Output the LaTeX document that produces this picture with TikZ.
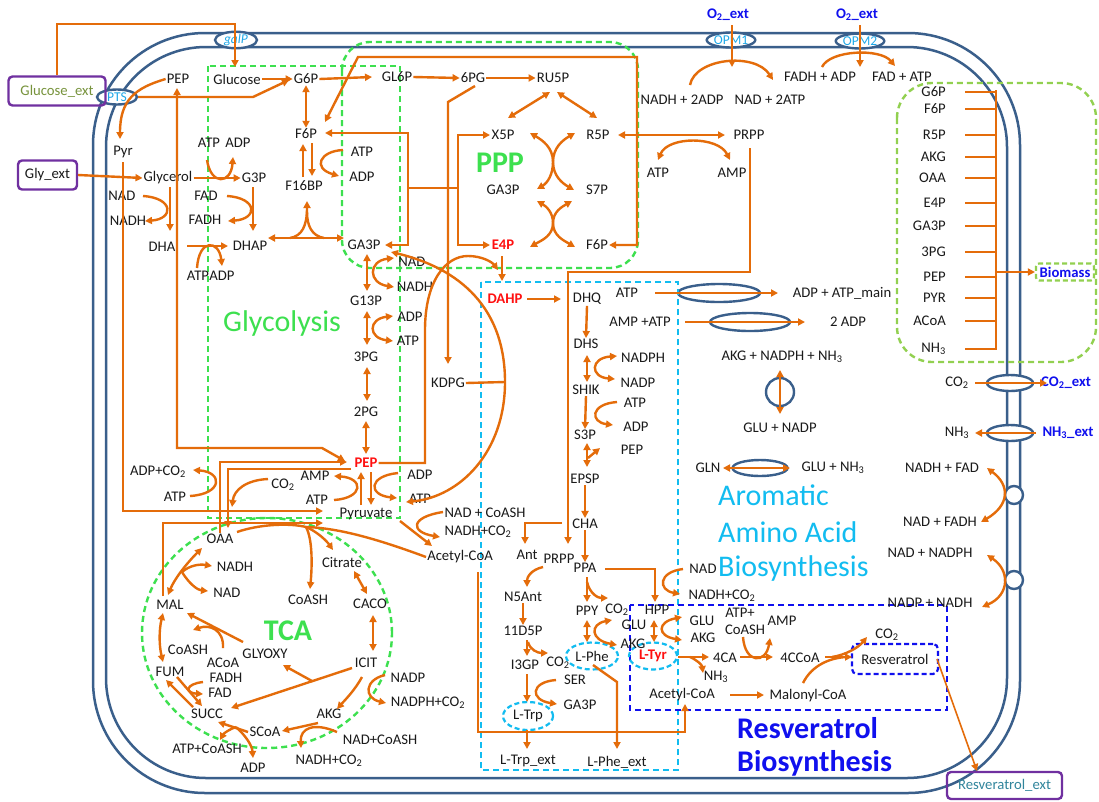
\documentclass[tikz,border=0pt]{standalone}
\usepackage{fontspec}
\setmainfont{Carlito}
\usetikzlibrary{arrows.meta,shapes.geometric}
\definecolor{org}{HTML}{E46C0A}
\definecolor{memc}{HTML}{3A5F8B}
\definecolor{gcol}{HTML}{3DE04F}
\definecolor{bcol}{HTML}{92D050}
\definecolor{ccol}{HTML}{12BCF0}
\definecolor{rblue}{HTML}{1010EE}
\definecolor{tblue}{HTML}{1EA8E8}
\definecolor{olive}{HTML}{77933C}
\definecolor{purp}{HTML}{7030A0}
\definecolor{teal2}{HTML}{31859C}
\definecolor{txt}{HTML}{1A1A1A}
\definecolor{redm}{HTML}{FF1010}
\newcommand\lblf{\fontsize{14.7}{16}\selectfont}
\newcommand\ttlf{\fontsize{30}{34}\selectfont}
\newcommand\trf{\fontsize{13.5}{15}\selectfont}
\begin{document}
\begin{tikzpicture}[x=1pt,y=-1pt,
  >={Triangle[length=7pt,width=7pt]},
  lab/.style={inner sep=1pt,font=\lblf,text=txt},
  rlab/.style={inner sep=1pt,font=\lblf\bfseries,text=redm},
  blab/.style={inner sep=1pt,font=\lblf\bfseries,text=rblue},
  oar/.style={draw=org,line width=2.4pt,->},
  odar/.style={draw=org,line width=2.4pt,<->},
  oln/.style={draw=org,line width=2.4pt},
  mem/.style={draw=memc,line width=2.5pt},
  trans/.style={ellipse,draw=memc,line width=2.4pt,fill=white,inner sep=0pt,font=\trf,text=tblue},
  gbox/.style={draw=gcol,line width=2.4pt,dash pattern=on 6pt off 4pt},
  bbox/.style={draw=bcol,line width=2.4pt,dash pattern=on 6pt off 4pt},
  cbox/.style={draw=ccol,line width=2.4pt,dash pattern=on 6pt off 4pt},
  rbox/.style={draw=rblue,line width=2.4pt,dash pattern=on 6pt off 4pt},
  extbox/.style={draw=purp,line width=2.4pt,rounded corners=4pt,inner sep=1pt,font=\lblf},
  ttl/.style={inner sep=0pt,font=\ttlf}]
\useasboundingbox (0,0) rectangle (1099,801);
\fill[white] (0,0) rectangle (1099,801);
% membranes
\draw[mem,rounded corners=112pt] (93,33) rectangle (1020,793);
\draw[mem,rounded corners=100pt] (106,47) rectangle (1007,778);
% transporters
\node[trans,minimum width=42pt,minimum height=15pt] (galp) at (236,40) {\itshape galP};
\node[trans,minimum width=40pt,minimum height=15pt] (pts) at (117,97) {PTS};
\node[trans,minimum width=44pt,minimum height=15pt] (opm1) at (731,40) {OPM1};
\node[trans,minimum width=44pt,minimum height=15pt] (opm2) at (860,41) {OPM2};
\node[trans,minimum width=46pt,minimum height=16pt] (tco2) at (1010,383) {};
\node[trans,minimum width=46pt,minimum height=16pt] (tnh3) at (1010,433) {};
\node[trans,circle,minimum size=18pt] (circA) at (1014,495) {};
\node[trans,circle,minimum size=18pt] (circB) at (1014,580) {};
\node[trans,minimum width=82pt,minimum height=18pt] (atpell) at (719,293) {};
\node[trans,minimum width=80pt,minimum height=18pt] (ampell) at (750,322) {};
\node[trans,minimum width=55pt,minimum height=16pt] (glnell) at (760,468) {};
\node[trans,circle,minimum size=28pt] (akgcirc) at (780,392) {};
% dashed boxes
\draw[gbox] (208,66) rectangle (400,518);
\draw[gbox,rounded corners=28pt] (342,42) rectangle (638,268);
\draw[gbox] (267,633) ellipse (125pt and 115pt);
\draw[bbox,rounded corners=35pt] (897,83) rectangle (1096,362);
\draw[cbox] (481,282) rectangle (678,770);
\draw[rbox] (630,605) rectangle (947,710);
\node[draw=ccol,line width=2.2pt,dash pattern=on 5pt off 3pt,ellipse,minimum width=50pt,minimum height=28pt,inner sep=0pt] (ltrpE) at (528,716) {};
\node[draw=ccol,line width=2.2pt,dash pattern=on 5pt off 3pt,ellipse,minimum width=52pt,minimum height=27pt,inner sep=0pt] (lpheE) at (592,656) {};
\node[draw=ccol,line width=2.2pt,dash pattern=on 5pt off 3pt,ellipse,minimum width=48pt,minimum height=27pt,inner sep=0pt] (ltyrE) at (653,656) {};
% external boxes
\node[extbox,minimum width=97pt,minimum height=29pt,text=olive] (glcext) at (57,91) {Glucose\_ext};
\node[extbox,minimum width=59pt,minimum height=29pt,text=txt] (glyext) at (47.5,175) {Gly\_ext};
\node[extbox,minimum width=115pt,minimum height=27pt,text=teal2] (resvext) at (1004.5,785.5) {Resveratrol\_ext};
% ---------- labels
\node[lab] (pepA) at (178,79) {PEP};
\node[lab] (glc) at (237,79) {Glucose};
\node[lab] (g6p) at (306,79) {G6P};
\node[lab] (gl6p) at (397,77) {GL6P};
\node[lab] (pg6) at (473,78) {6PG};
\node[lab] (ru5p) at (553,78) {RU5P};
\node[lab] (pyr) at (123,152) {Pyr};
\node[lab] (f6p) at (306,134) {F6P};
\node[lab] (atpA) at (209,143) {ATP};
\node[lab] (adpA) at (238,143) {ADP};
\node[lab] (glyc) at (168,178) {Glycerol};
\node[lab] (g3p) at (254,178) {G3P};
\node[lab] (f16bp) at (304,186) {F16BP};
\node[lab] (atpB) at (362,152) {ATP};
\node[lab] (adpB) at (362,177) {ADP};
\node[lab] (x5p) at (503,135) {X5P};
\node[lab] (r5p) at (598,135) {R5P};
\node[lab] (ga3pP) at (503,190) {GA3P};
\node[lab] (s7p) at (597,190) {S7P};
\node[rlab] (e4p) at (503,245) {E4P};
\node[lab] (f6pP) at (597,245) {F6P};
\node[lab] (nadA) at (122,196) {NAD};
\node[lab] (nadhA) at (128,221) {NADH};
\node[lab] (fadA) at (206,196) {FAD};
\node[lab] (fadhA) at (205,220) {FADH};
\node[lab] (dha) at (162,247) {DHA};
\node[lab] (dhap) at (250,246) {DHAP};
\node[lab] (atpC) at (198,276) {ATP};
\node[lab] (adpC) at (222,276) {ADP};
\node[lab] (ga3p) at (364,245) {GA3P};
\node[lab] (nadB) at (412,262) {NAD};
\node[lab] (nadhB) at (415,287) {NADH};
\node[lab] (g13p) at (366,301) {G13P};
\node[lab] (adpD) at (410,317) {ADP};
\node[lab] (atpD) at (408,341) {ATP};
\node[lab] (pg3) at (366,357) {3PG};
\node[lab] (pg2) at (366,412) {2PG};
\node[rlab] (pep) at (366,463) {PEP};
\node[lab] (ampE) at (315,476) {AMP};
\node[lab] (atpE) at (317,500) {ATP};
\node[lab] (adpF) at (420,475) {ADP};
\node[lab] (atpF) at (420,499) {ATP};
\node[lab] (co2A) at (283,485) {CO\textsubscript{2}};
\node[lab] (adpco2) at (158,472) {ADP+CO\textsubscript{2}};
\node[lab] (atpG) at (175,497) {ATP};
\node[lab] (pyruv) at (366,514) {Pyruvate};
\node[lab] (nadcoash) at (485,513) {NAD + CoASH};
\node[lab] (nadhco2) at (478,532) {NADH+CO\textsubscript{2}};
\node[lab] (acoa) at (460,557) {Acetyl-CoA};
\node[lab] (kdpg) at (448,383) {KDPG};
\node[lab] (oaa) at (220,539) {OAA};
\node[lab] (nadhC) at (235,567) {NADH};
\node[lab] (nadC) at (227,593) {NAD};
\node[lab] (citrate) at (342,562) {Citrate};
\node[lab] (coashA) at (308,600) {CoASH};
\node[lab] (caco) at (370,604) {CACO};
\node[lab] (mal) at (170,605) {MAL};
\node[lab] (coashB) at (188,650) {CoASH};
\node[lab] (glyoxy) at (265,654) {GLYOXY};
\node[lab] (acoaB) at (223,663) {ACoA};
\node[lab] (icit) at (366,663) {ICIT};
\node[lab] (fum) at (170,672) {FUM};
\node[lab] (fadhB) at (226,678) {FADH};
\node[lab] (fadB) at (220,693) {FAD};
\node[lab] (nadpA) at (408,678) {NADP};
\node[lab] (nadphco2) at (428,703) {NADPH+CO\textsubscript{2}};
\node[lab] (succ) at (207,714) {SUCC};
\node[lab] (akg) at (329,714) {AKG};
\node[lab] (scoa) at (265,732) {SCoA};
\node[lab] (nadcoashB) at (380,740) {NAD+CoASH};
\node[lab] (atpcoash) at (207,749) {ATP+CoASH};
\node[lab] (adpH) at (253,768) {ADP};
\node[lab] (nadhco2B) at (329,761) {NADH+CO\textsubscript{2}};
% aromatic
\node[rlab] (dahp) at (505,299) {DAHP};
\node[lab] (dhq) at (587,299) {DHQ};
\node[lab] (dhs) at (586,344) {DHS};
\node[lab] (nadphA) at (643,358) {NADPH};
\node[lab] (nadpB) at (638,383) {NADP};
\node[lab] (shik) at (586,390) {SHIK};
\node[lab] (atpH) at (635,403) {ATP};
\node[lab] (adpI) at (636,427) {ADP};
\node[lab] (s3p) at (585,435) {S3P};
\node[lab] (pepC) at (632,450) {PEP};
\node[lab] (epsp) at (585,479) {EPSP};
\node[lab] (cha) at (585,524) {CHA};
\node[lab] (ant) at (527,555) {Ant};
\node[lab] (prppB) at (559,559) {PRPP};
\node[lab] (ppa) at (585,568) {PPA};
\node[lab] (n5ant) at (523,597) {N5Ant};
\node[lab] (nadD) at (703,569) {NAD};
\node[lab] (nadhco2C) at (722,596) {NADH+CO\textsubscript{2}};
\node[lab] (ppy) at (587,611) {PPY};
\node[lab] (co2B) at (617,610) {CO\textsubscript{2}};
\node[lab] (hpp) at (657,610) {HPP};
\node[lab] (gluA) at (634,625) {GLU};
\node[lab] (akgB) at (633,644) {AKG};
\node[lab] (gluB) at (702,621) {GLU};
\node[lab] (akgC) at (703,638) {AKG};
\node[lab] (atpplus) at (740,613) {ATP+};
\node[lab] (coashC) at (745,630) {CoASH};
\node[lab] (ampB) at (782,621) {AMP};
\node[lab] (co2C) at (887,635) {CO\textsubscript{2}};
\node[lab] (d5p) at (523,631) {11D5P};
\node[lab] (lphe) at (592,656) {L-Phe};
\node[rlab] (ltyr) at (653,656) {L-Tyr};
\node[lab] (ca4) at (725,658) {4CA};
\node[lab] (cca4) at (800,658) {4CCoA};
\node[draw=rblue,line width=2.2pt,dash pattern=on 5pt off 3pt,rounded corners=5pt,minimum width=86pt,minimum height=30pt,inner sep=1pt,font=\lblf,text=txt] (resv) at (895,659) {Resveratrol};
\node[lab] (co2D) at (558,663) {CO\textsubscript{2}};
\node[lab] (i3gp) at (525,665) {I3GP};
\node[lab] (nh3B) at (716,677) {NH\textsubscript{3}};
\node[lab] (ser) at (575,680) {SER};
\node[lab] (acoaC) at (682,695) {Acetyl-CoA};
\node[lab] (malcoa) at (808,696) {Malonyl-CoA};
\node[lab] (ga3pC) at (580,705) {GA3P};
\node[lab] (ltrp) at (528,716) {L-Trp};
\node[lab] (ltrpext) at (528,761) {L-Trp\_ext};
\node[lab] (lpheext) at (617,762) {L-Phe\_ext};
% right side
\node[blab] (o2a) at (728,15) {O\textsubscript{2}\_ext};
\node[blab] (o2b) at (857,15) {O\textsubscript{2}\_ext};
\node[lab] (nadh2adp) at (682,100) {NADH + 2ADP};
\node[lab] (nad2atp) at (770,100) {NAD + 2ATP};
\node[lab] (fadhadp) at (820,77) {FADH + ADP};
\node[lab] (fadatp) at (902,77) {FAD + ATP};
\node[lab] (prppA) at (749,135) {PRPP};
\node[lab] (atpJ) at (658,173) {ATP};
\node[lab] (ampA) at (732,173) {AMP};
\node[lab] (atpK) at (627,293) {ATP};
\node[lab] (atpmain) at (842,293) {ADP + ATP\_main};
\node[lab] (ampatp) at (640,322) {AMP +ATP};
\node[lab] (adp2) at (848,322) {2 ADP};
\node[lab] (akgnadph) at (782,357) {AKG + NADPH + NH\textsubscript{3}};
\node[lab] (glunadp) at (780,428) {GLU + NADP};
\node[lab] (gln) at (708,468) {GLN};
\node[lab] (glunh3) at (833,468) {GLU + NH\textsubscript{3}};
\node[lab] (co2E) at (957,383) {CO\textsubscript{2}};
\node[blab] (co2ext) at (1066,383) {CO\textsubscript{2}\_ext};
\node[lab] (nh3C) at (957,433) {NH\textsubscript{3}};
\node[blab] (nh3ext) at (1068,433) {NH\textsubscript{3}\_ext};
\node[lab] (nadhfad) at (942,468) {NADH + FAD};
\node[lab] (nadfadh) at (940,522) {NAD + FADH};
\node[lab] (nadnadph) at (930,553) {NAD + NADPH};
\node[lab] (nadpnadh) at (930,603) {NADP + NADH};
% biomass list
\foreach \t/\yy/\nm in {G6P/92/bA,F6P/109/bB,R5P/135/bC,AKG/157/bD,OAA/178/bE,E4P/203/bF,GA3P/226/bG,3PG/252/bH,PEP/277/bI,PYR/298/bJ,ACoA/321/bK,NH\textsubscript{3}/349/bL}{
  \node[lab,anchor=east] (\nm) at (947,\yy) {\t};
  \draw[oln] (965,\yy) -- (996,\yy);
}
\draw[oln] (996,90) -- (996,350);
\node[draw=bcol,line width=2.2pt,dash pattern=on 5pt off 3pt,rounded corners=3pt,minimum width=58pt,minimum height=17pt,inner sep=1pt,font=\lblf\bfseries,text=rblue] (biomass) at (1065,272) {Biomass};
\draw[oar] (996,272) -- (biomass.west);
% titles
\node[ttl,text=gcol,font=\ttlf\bfseries] (tppp) at (500,163) {PPP};
\node[ttl,text=gcol] (tgly) at (282,323) {Glycolysis};
\node[ttl,text=gcol,font=\ttlf\bfseries] (ttca) at (288,631) {TCA};
\node[ttl,text=ccol,anchor=west] (tar1) at (718,495) {Aromatic};
\node[ttl,text=ccol,anchor=west] (tar2) at (718,532) {Amino Acid};
\node[ttl,text=ccol,anchor=west] (tar3) at (718,568) {Biosynthesis};
\node[ttl,text=rblue,font=\ttlf\bfseries,anchor=west] (trs1) at (737,728) {Resveratrol};
\node[ttl,text=rblue,font=\ttlf\bfseries,anchor=west] (trs2) at (737,763) {Biosynthesis};
% ---------- connectors
% uptake
\draw[oar] (glcext.north) -- (57,24) -- (235,24) -- (235,67);
\draw[oar] (pts.east) -- (253,97) -- (289,80);
\draw[oar] (pepA.west) .. controls (135,88) and (120,100) .. (120,139);
\draw[oar] (glyext.east) -- (glyc.west);
% upper glycolysis
\draw[oar] (glc.east) -- (g6p.west);
\draw[odar] (g6p.south) -- (f6p.north);
\draw[oar] (g6p.east) -- (372,77);
\draw[oar] (gl6p.east) -- (pg6.west);
\draw[oar] (pg6.east) -- (ru5p.west);
\draw[oar] (312,143) -- (312,176);
\draw[oar] (303,177) -- (303,144);
\draw[oar] (343,150) .. controls (320,151) and (312,168) .. (339,176);
\draw[oar] (glyc.east) -- (g3p.west);
\draw[oar] (207,160) .. controls (211,186) and (231,184) .. (233,157);
\draw[oar] (170,187) -- (170,231);
\draw[oar] (143,196) .. controls (174,198) and (174,219) .. (145,221);
\draw[oar] (253,187) -- (253,231);
\draw[oar] (227,196) .. controls (258,198) and (258,219) .. (228,221);
\draw[oar] (187,246) -- (228,246);
\draw[oar] (197,268) .. controls (199,238) and (219,240) .. (222,266);
\draw[odar] (268,238) -- (344,238);
\draw[oar] (290,238) .. controls (302,236) and (307,226) .. (307,201);
\draw[oln] (324,238) .. controls (312,236) and (307,226) .. (307,212);
% lower glycolysis
\draw[odar] (367,254) -- (367,291);
\draw[odar] (394,258) .. controls (368,261) and (368,283) .. (394,287);
\draw[odar] (367,311) -- (367,345);
\draw[odar] (393,316) .. controls (368,319) and (368,338) .. (393,341);
\draw[odar] (367,367) -- (367,401);
\draw[odar] (366,421) -- (366,454);
\draw[oar] (361,505) -- (361,472);
\draw[oar] (371,472) -- (371,505);
\draw[oar] (334,500) .. controls (364,498) and (364,478) .. (334,476);
\draw[oar] (398,473) .. controls (368,476) and (368,495) .. (397,498);
% PPP
\draw[odar] (550,92) -- (508,118);
\draw[odar] (557,92) -- (597,118);
\draw[odar] (530,133) to[out=-30,in=90] (553,162) to[out=-90,in=30] (537,189);
\draw[odar] (575,133) to[out=210,in=90] (553,162) to[out=-90,in=150] (574,190);
\draw[odar] (537,201) to[out=-30,in=90] (553,223) to[out=-90,in=30] (530,247);
\draw[odar] (572,201) to[out=210,in=90] (553,223) to[out=-90,in=150] (575,247);
\coordinate (jA) at (408,188);
\coordinate (jB) at (458,188);
\draw[oar] (jA) -- (408,133) -- (325,133);
\draw[oar] (jA) -- (408,245) -- (385,245);
\draw[oln] (jA) -- (jB);
\draw[oar] (jB) -- (458,135) -- (490,135);
\draw[oar] (jB) -- (458,245) -- (490,245);
\draw[odar] (f6pP.east) -- (637,245) -- (637,57) -- (358,57) -- (325,122);
\draw[oar] (475,86) -- (448,102) -- (448,364);
% ED + PEP loop
\coordinate (jK) at (505,382);
\draw[odar] (391,252) .. controls (450,266) and (505,300) .. (jK) .. controls (505,452) and (460,497) .. (406,502);
\draw[oln] (kdpg.east) -- (jK);
\draw[oar] (pep.east) -- (425,463) -- (425,330) .. controls (425,282) and (445,256) .. (468,256) .. controls (482,256) and (492,262) .. (498,270);
% anaplerotic
\draw[oar] (268,479) .. controls (246,480) and (234,490) .. (232,507);
\draw[oar] (oaa.north) -- (220,462) -- (347,462);
\draw[oar] (351,469) -- (228,469) -- (228,528);
\draw[oar] (190,496) .. controls (223,494) and (223,472) .. (193,470);
\draw[odar] (177,88) -- (177,448) -- (322,448) -- (345,461);
\draw[oar] (123,162) -- (123,511) -- (323,511);
\draw[oar] (163,596) -- (163,523) -- (323,523);
% pyruvate -> acetyl-CoA
\draw[oar] (400,521) -- (432,546);
\draw[oar] (443,512) .. controls (410,517) and (410,532) .. (440,537);
% TCA
\coordinate (jT) at (306,527);
\draw[oln] (acoa.west) .. controls (380,540) and (340,528) .. (jT);
\draw[oln] (237,532) .. controls (260,524) and (290,523) .. (jT);
\draw[oar] (jT) .. controls (316,531) and (326,540) .. (333,550);
\draw[oar] (jT) .. controls (313,540) and (312,568) .. (310,589);
\draw[odar] (354,571) -- (367,594);
\draw[odar] (373,615) -- (373,651);
\draw[odar] (202,548) .. controls (185,565) and (174,580) .. (168,595);
\draw[oar] (182,572) .. controls (190,565) and (200,564) .. (212,566);
\draw[oar] (182,572) .. controls (190,585) and (198,590) .. (208,591);
\draw[odar] (163,613) .. controls (159,630) and (159,645) .. (163,662);
\draw[oar] (243,642) -- (187,613);
\draw[oar] (223,648) .. controls (224,630) and (210,624) .. (193,630);
\draw[oar] (352,668) -- (231,708);
\draw[oar] (312,681) -- (283,665);
\draw[oar] (193,707) -- (166,680);
\draw[oar] (177,677) -- (202,706);
\draw[oar] (203,682) .. controls (185,684) and (185,693) .. (203,694);
\draw[oar] (248,732) -- (218,722);
\draw[oar] (236,727) .. controls (230,729) and (224,733) .. (220,740);
\draw[oar] (236,727) .. controls (245,735) and (252,745) .. (253,758);
\draw[oar] (318,723) -- (282,731);
\draw[oar] (337,732) .. controls (314,722) and (300,728) .. (301,748);
\draw[oar] (362,677) .. controls (355,690) and (345,700) .. (337,709);
\draw[oar] (385,675) .. controls (364,680) and (364,698) .. (386,703);
% aromatic pathway
\draw[oar] (502,256) -- (502,281);
\draw[oar] (527,299) -- (561,299);
\draw[oar] (dhq.south) -- (dhs.north);
\draw[odar] (587,355) -- (587,382);
\draw[odar] (617,356) .. controls (590,358) and (590,377) .. (615,379);
\draw[oar] (shik.south) -- (s3p.north);
\draw[oar] (617,402) .. controls (590,404) and (590,422) .. (613,425);
\draw[odar] (587,443) -- (587,467);
\draw[oar] (588,458) -- (600,448);
\draw[oar] (epsp.south) -- (cha.north);
\draw[oar] (cha.south) -- (ppa.north);
\draw[oar] (562,523) -- (525,523) -- (525,544);
\draw[oar] (750,148) -- (750,272) -- (568,272) -- (568,544);
\draw[oar] (543,567) .. controls (530,570) and (527,578) .. (527,587);
\draw[oar] (n5ant.south) -- (d5p.north);
\draw[oar] (527,640) -- (527,656);
\draw[oar] (528,642) .. controls (530,650) and (538,653) .. (548,653);
\draw[oar] (527,674) -- (527,702);
\draw[oar] (556,680) .. controls (530,682) and (530,700) .. (557,704);
\draw[oar] (527,730) -- (527,749);
\draw[oar] (587,577) -- (587,602);
\draw[oar] (587,582) .. controls (590,594) and (598,598) .. (608,598);
\draw[odar] (587,620) -- (587,642);
\draw[odar] (612,620) .. controls (590,624) and (590,640) .. (617,645);
\draw[oar] (593,665) -- (617,682) -- (617,749);
\draw[oar] (605,569) -- (655,569) -- (655,602);
\draw[oar] (683,569) .. controls (658,572) and (658,590) .. (680,594);
\draw[odar] (654,620) -- (654,642);
\draw[odar] (682,617) .. controls (657,622) and (657,636) .. (682,640);
% resveratrol
\draw[oar] (678,657) -- (709,657);
\draw[oar] (690,657) .. controls (697,660) and (702,665) .. (703,673);
\draw[oar] (740,657) -- (773,657);
\draw[oar] (743,637) .. controls (745,664) and (766,664) .. (770,638);
\draw[oar] (825,657) -- (852,657);
\draw[oln] (803,683) .. controls (812,665) and (830,658) .. (846,657);
\draw[oar] (832,657) .. controls (845,655) and (858,648) .. (867,637);
\draw[oar] (730,695) -- (764,695);
\draw[oar] (478,572) -- (478,732) -- (685,732) -- (685,704);
\draw[draw=org,line width=1.6pt,->] (937,659) -- (977,771);
% energy / right side
\draw[oar] (732,25) -- (732,67);
\draw[oar] (860,25) -- (860,67);
\draw[oar] (690,85) .. controls (695,58) and (755,52) .. (773,80);
\draw[oar] (822,67) .. controls (830,50) and (880,48) .. (895,66);
\draw[odar] (618,135) -- (725,135);
\draw[odar] (658,160) .. controls (668,136) and (718,136) .. (730,160);
\draw[oar] (655,293) -- (778,293);
\draw[oar] (685,322) -- (805,322);
\draw[odar] (780,370) -- (780,414);
\draw[odar] (723,468) -- (790,468);
\draw[oar] (975,383) -- (1047,383);
\draw[oar] (1036,433) -- (975,433);
\draw[odar] (987,468) .. controls (1010,485) and (1010,505) .. (981,522);
\draw[odar] (987,555) .. controls (1010,570) and (1010,595) .. (982,607);
\end{tikzpicture}
\end{document}
